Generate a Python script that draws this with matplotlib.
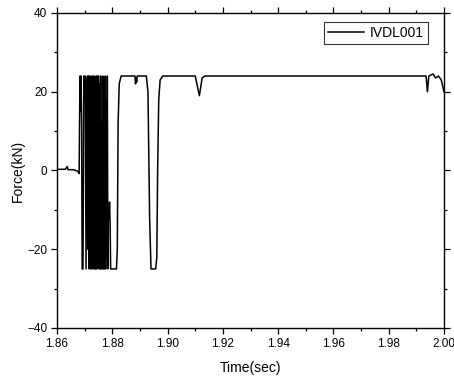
import matplotlib
matplotlib.use("Agg")
import matplotlib.pyplot as plt
from matplotlib.ticker import MultipleLocator

plt.rcParams['font.family'] = ['Liberation Sans', 'DejaVu Sans']

time = [1.8600, 1.8630, 1.8637, 1.8640, 1.8660, 1.8675, 1.8680, 1.8683, 1.8685, 1.8687,
        1.8689, 1.8691, 1.8694, 1.8697, 1.8700, 1.8702, 1.8705, 1.8708, 1.8710, 1.8712,
        1.8714, 1.8716, 1.8718, 1.8720, 1.8722, 1.8724, 1.8726, 1.8728, 1.8730, 1.8732,
        1.8734, 1.8736, 1.8738, 1.8740, 1.8742, 1.8744, 1.8746, 1.8748, 1.8750, 1.8752,
        1.8754, 1.8756, 1.8758, 1.8760, 1.8762, 1.8764, 1.8766, 1.8768, 1.8770, 1.8772,
        1.8774, 1.8776, 1.8778, 1.8780, 1.8782, 1.8784, 1.8786, 1.8788, 1.8790, 1.8792,
        1.8794, 1.8815, 1.8818, 1.8821, 1.8825, 1.8832, 1.8882, 1.8884,
        1.8886, 1.8888, 1.8890, 1.8923, 1.8929, 1.8935, 1.8940, 1.8957, 1.8961, 1.8964,
        1.8968, 1.8973, 1.8982, 1.9100, 1.9115, 1.9125, 1.9135, 1.9935, 1.9940, 1.9945,
        1.9960, 1.9970, 1.9980, 1.9990, 2.0000]
force = [0.3, 0.3, 1.0, 0.2, 0.2, -0.2, -0.8, 24, 15, 24,
         12, -25, -25, 24, 18, 24, -25, 22, 24, -20,
         24, -25, 24, 10, -25, 24, -25, 16, 24, -25,
         24, -25, 20, -25, 24, -25, 24, -18, 24, -25,
         22, -25, 24, -25, 12, -25, 24, -25, 20, -25,
         24, -25, 18, -22, 24, -25, -10, -12, -8, -13,
         -25, -25, -20, 12, 22, 24, 24, 22,
         23.5, 22.5, 24, 24, 20, -12, -25, -25, -22, 0,
         18, 23, 24, 24, 19, 23.5, 24, 24, 20, 24,
         24.5, 23.5, 24, 23, 20]

fig = plt.figure(figsize=(4.54, 3.79), dpi=100)
ax = fig.add_axes([0.1256, 0.1346, 0.8524, 0.8311])
ax.plot(time, force, color='black', lw=1.1, label='IVDL001')
ax.set_xlim(1.86, 2.00)
ax.set_ylim(-40, 40)
ax.xaxis.set_major_locator(MultipleLocator(0.02))
ax.xaxis.set_minor_locator(MultipleLocator(0.01))
ax.yaxis.set_major_locator(MultipleLocator(20))
ax.yaxis.set_minor_locator(MultipleLocator(10))
ax.set_xticks([1.86, 1.88, 1.90, 1.92, 1.94, 1.96, 1.98, 2.00])
ax.set_xticklabels(['1.86', '1.88', '1.90', '1.92', '1.94', '1.96', '1.98', '2.00'])
ax.tick_params(which='both', direction='out', top=True, right=True, labelsize=8.5, width=0.9)
ax.tick_params(which='major', length=4.5, pad=2.5)
ax.tick_params(which='minor', length=2.5)
for s in ax.spines.values():
    s.set_linewidth(1.0)
ax.set_xlabel('Time(sec)', fontsize=10, labelpad=8)
ax.set_ylabel('Force(kN)', fontsize=10, labelpad=2)
leg = ax.legend(loc='upper right', fontsize=10, frameon=True, fancybox=False,
                edgecolor='black', handlelength=2.6, borderpad=0.3,
                handletextpad=0.4, bbox_to_anchor=(0.976, 0.994))
leg.get_frame().set_linewidth(0.8)
fig.savefig('out.png', dpi=100)
